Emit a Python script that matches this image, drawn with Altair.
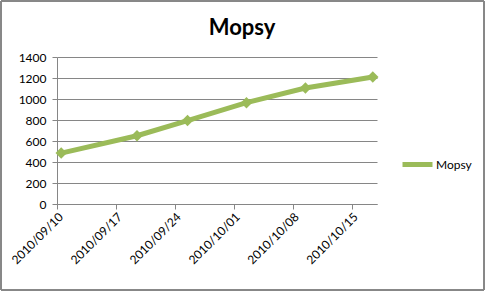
import altair as alt
import pandas as pd

dates = ["2010-09-10", "2010-09-19", "2010-09-25", "2010-10-02", "2010-10-09", "2010-10-17"]
values = [485, 650, 795, 965, 1105, 1210]
series = "Mopsy"
tick_dates = ["2010-09-10", "2010-09-17", "2010-09-24", "2010-10-01", "2010-10-08", "2010-10-15"]
y_ticks = [0, 200, 400, 600, 800, 1000, 1200, 1400]

df = pd.DataFrame({"date": dates, "value": values, "series": [series] * len(dates)})

GREEN = "#9bbb59"
GRAY = "#868686"
FONT = "Lato"


def dt(s):
    y, m, d = (int(p) for p in s.split("-"))
    return alt.DateTime(year=y, month=m, date=d, utc=True)


x_scale = alt.Scale(type="utc", domain=[dt("2010-09-10"), dt("2010-10-18")], nice=False)

base = alt.Chart(df).transform_calculate(
    t="toDate(datum.date + 'T12:00:00Z')"
)

x_enc = alt.X(
    "t:T",
    scale=x_scale,
    axis=alt.Axis(
        values=[dt(s) for s in tick_dates],
        format="%Y/%m/%d",
        labelAngle=-45,
        title=None,
        grid=False,
        domainColor=GRAY,
        tickColor=GRAY,
        tickSize=5,
        labelFontSize=12,
        labelFont=FONT,
        labelColor="#000000",
        labelPadding=2,
    ),
)
y_enc = alt.Y(
    "value:Q",
    scale=alt.Scale(domain=[0, 1400], nice=False),
    axis=alt.Axis(
        values=y_ticks,
        format="d",
        title=None,
        grid=True,
        gridColor=GRAY,
        domainColor=GRAY,
        tickColor=GRAY,
        tickSize=5,
        labelFontSize=12,
        labelFont=FONT,
        labelColor="#000000",
        labelPadding=6,
        minExtent=57,
        maxExtent=57,
    ),
)
color_enc = alt.Color(
    "series:N",
    scale=alt.Scale(range=[GREEN]),
    legend=alt.Legend(
        title=None,
        orient="none",
        legendX=343,
        legendY=90,
        symbolType="stroke",
        symbolSize=900,
        symbolStrokeWidth=5,
        labelFont=FONT,
        labelFontSize=12,
        labelColor="#000000",
        labelOffset=1,
    ),
)

line = base.mark_line(strokeWidth=5).encode(x=x_enc, y=y_enc, color=color_enc)
pts = base.mark_point(shape="diamond", filled=True, size=130, opacity=1).encode(
    x=x_enc, y=y_enc, color=alt.Color("series:N", scale=alt.Scale(range=[GREEN]), legend=None)
)

frame = alt.Chart(df).mark_rect(fill=None, stroke=GRAY, strokeWidth=1).encode(
    x=alt.value(-56), x2=alt.value(427), y=alt.value(-56), y2=alt.value(233)
)

chart = alt.layer(frame, line, pts).properties(
    width=320,
    height=147,
    title=alt.TitleParams(
        "Mopsy", font=FONT, fontSize=22, fontWeight="bold", color="#000000",
        anchor="middle", frame="group", offset=-39, dx=25,
    ),
    padding={"left": 0, "top": 0, "right": 0, "bottom": 0},
    background="#ffffff",
).configure_view(stroke=None)

chart.save("out.html", embed_options={"renderer": "svg", "actions": False})
